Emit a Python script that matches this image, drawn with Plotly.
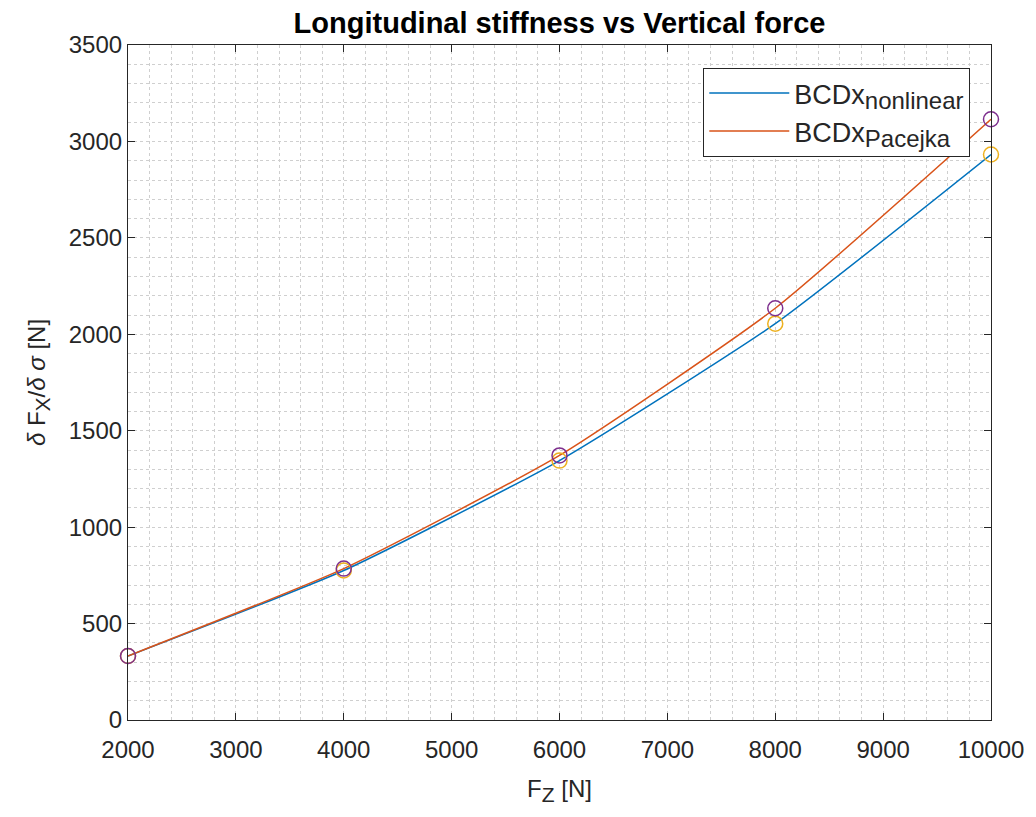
import plotly.graph_objects as go

fz = [2000, 4000, 6000, 8000, 10000]
bcd_nonlinear = [332, 775, 1345, 2055, 2932]
bcd_pacejka = [332, 785, 1372, 2135, 3115]

blue = "#0072BD"
orange = "#D95319"
yellow = "#EDB120"
purple = "#7E2F8E"


def sub(txt, size):
    return f"<sub><span style='font-size:{size}px'>{txt}</span></sub>"


fig = go.Figure()
fig.add_trace(go.Scatter(x=fz, y=bcd_nonlinear, mode="lines", line=dict(color=blue, width=1.5, shape="spline", smoothing=0.5),
                         name="BCDx" + sub("nonlinear", 24)))
fig.add_trace(go.Scatter(x=fz, y=bcd_pacejka, mode="lines", line=dict(color=orange, width=1.5, shape="spline", smoothing=0.5),
                         name="BCDx" + sub("Pacejka", 24)))
fig.add_trace(go.Scatter(x=fz, y=bcd_nonlinear, mode="markers", showlegend=False,
                         marker=dict(symbol="circle-open", size=15, color=yellow, line=dict(width=1.5, color=yellow)), cliponaxis=False))
fig.add_trace(go.Scatter(x=fz, y=bcd_pacejka, mode="markers", showlegend=False,
                         marker=dict(symbol="circle-open", size=15, color=purple, line=dict(width=1.5, color=purple)), cliponaxis=False))

grid_col = "#cfcfcf"
axis_common = dict(
    showline=True, linecolor="#262626", linewidth=1.2, mirror="ticks",
    ticks="inside", ticklen=7, tickcolor="#262626",
    tickfont=dict(size=24, color="#262626"),
    showgrid=True, gridcolor=grid_col, griddash="dot", gridwidth=1,
    zeroline=False, tickformat="d", ticklabeloverflow="allow",
)

fig.update_xaxes(range=[2000, 10000], dtick=1000, tick0=0, ticklabelstandoff=8,
                 minor=dict(dtick=200, showgrid=True, gridcolor=grid_col, griddash="dot", ticks=""),
                 title=dict(text="F" + sub("Z", 21) + " [N]", font=dict(size=24, color="#262626"), standoff=18),
                 **axis_common)
fig.update_yaxes(range=[0, 3500], dtick=500, tick0=0,
                 minor=dict(dtick=100, showgrid=True, gridcolor=grid_col, griddash="dot", ticks=""),
                 title=dict(text="<i>δ</i> F" + sub("X", 21) + "/<i>δ σ</i> [N]", font=dict(size=24, color="#262626"), standoff=16),
                 **axis_common)

fig.update_layout(
    width=1036, height=810,
    margin=dict(l=128, r=40, t=45, b=78),
    paper_bgcolor="white", plot_bgcolor="white",
    font=dict(family="Liberation Sans, Arial, sans-serif", color="#262626"),
    title=dict(text="<b>Longitudinal stiffness vs Vertical force</b>", x=0.5, xanchor="center",
               xref="paper", y=1, yref="paper", yanchor="bottom", pad=dict(b=12),
               font=dict(size=29, color="black")),
    legend=dict(x=0.976, xanchor="right", y=0.966, yanchor="top", itemwidth=80,
                bgcolor="white", bordercolor="#262626", borderwidth=1,
                font=dict(size=27, color="#262626"), tracegroupgap=0),
)

fig.write_html("out.html", config={"displayModeBar": False},
               post_script="document.body.style.margin='0px';document.body.style.overflow='hidden';")
